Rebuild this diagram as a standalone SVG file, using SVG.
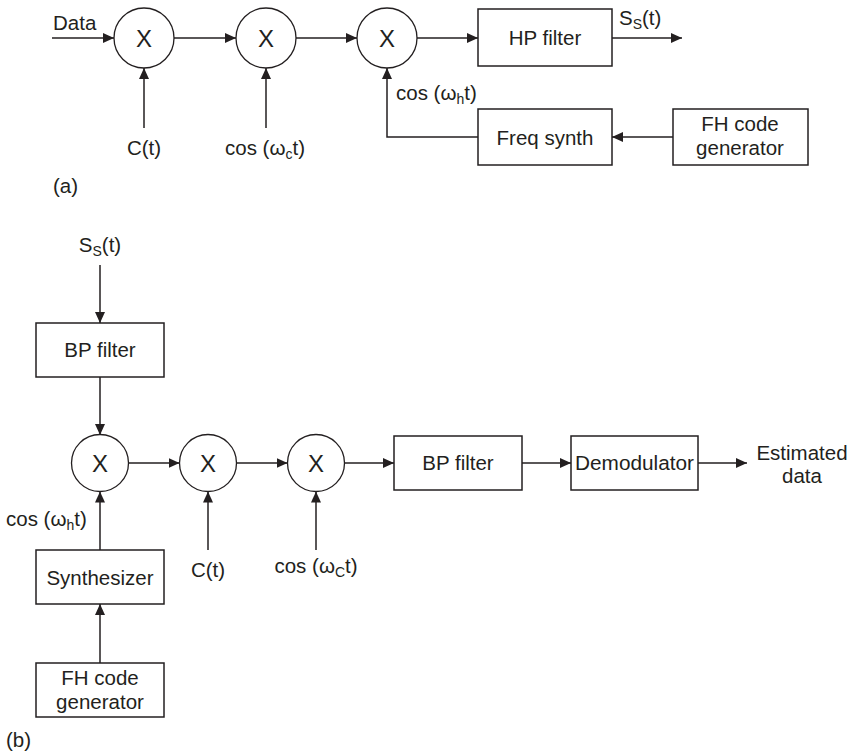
<svg xmlns="http://www.w3.org/2000/svg" width="857" height="755" viewBox="0 0 857 755">
<defs>
<marker id="arr" markerUnits="userSpaceOnUse" markerWidth="12" markerHeight="11" refX="11" refY="5" orient="auto">
<path d="M0,0 L11,5 L0,10 Z" fill="#231f20"/>
</marker>
<style>
.box{fill:#fff;stroke:#231f20;stroke-width:1.5}
.mul{fill:#fff;stroke:#231f20;stroke-width:1.3}
.ln{fill:none;stroke:#231f20;stroke-width:1.5;marker-end:url(#arr)}
text{font-family:"Liberation Sans",Arial,sans-serif;font-size:20.5px;fill:#231f20}
.c{text-anchor:middle}
.x{font-size:24px;text-anchor:middle}
.sub{font-size:14px}
</style>
</defs>
<rect width="857" height="755" fill="#fff"/>
<g id="connectors">
<path class="ln" d="M52,38 H114"/>
<path class="ln" d="M174,38 H236"/>
<path class="ln" d="M296,38 H357"/>
<path class="ln" d="M417,38 H478"/>
<path class="ln" d="M612,38 H682"/>
<path class="ln" d="M144,128 V68"/>
<path class="ln" d="M266,128 V68"/>
<path class="ln" d="M478,137 H387 V68"/>
<path class="ln" d="M673,137 H612"/>
<path class="ln" d="M100,265 V323"/>
<path class="ln" d="M100,377 V435"/>
<path class="ln" d="M128.5,463 H179.5"/>
<path class="ln" d="M236.5,463 H287.5"/>
<path class="ln" d="M344.5,463 H394"/>
<path class="ln" d="M522,463 H571"/>
<path class="ln" d="M698,463 H747"/>
<path class="ln" d="M100,550 V491.5"/>
<path class="ln" d="M100,663 V604"/>
<path class="ln" d="M208,550 V491.5"/>
<path class="ln" d="M316,550 V491.5"/>
</g>
<g id="labels">
<text x="53" y="30">Data</text>
<text class="c" x="144" y="155">C(t)</text>
<text class="c" x="265" y="155">cos (ω<tspan class="sub" dy="4">c</tspan><tspan dy="-4">t)</tspan></text>
<text x="396" y="100">cos (ω<tspan class="sub" dy="4">h</tspan><tspan dy="-4">t)</tspan></text>
<text x="619" y="25">S<tspan class="sub" dy="4">S</tspan><tspan dy="-4">(t)</tspan></text>
<text x="53" y="193">(a)</text>
<text class="c" x="100" y="252">S<tspan class="sub" dy="4">S</tspan><tspan dy="-4">(t)</tspan></text>
<text x="6" y="526">cos (ω<tspan class="sub" dy="4">h</tspan><tspan dy="-4">t)</tspan></text>
<text class="c" x="208" y="577">C(t)</text>
<text class="c" x="316" y="573">cos (ω<tspan class="sub" dy="4">C</tspan><tspan dy="-4">t)</tspan></text>
<text class="c" x="802" y="460">Estimated</text>
<text class="c" x="802" y="483">data</text>
<text x="6" y="747">(b)</text>
</g>
<g id="mulA1"><circle class="mul" cx="144" cy="38" r="30"/><text class="x" x="144" y="47">X</text></g>
<g id="mulA2"><circle class="mul" cx="266" cy="38" r="30"/><text class="x" x="266" y="47">X</text></g>
<g id="mulA3"><circle class="mul" cx="387" cy="38" r="30"/><text class="x" x="387" y="47">X</text></g>
<g id="hpfilter"><rect class="box" x="478" y="9" width="134" height="57"/><text class="c" x="545" y="45">HP filter</text></g>
<g id="freqsynth"><rect class="box" x="478" y="109" width="134" height="56"/><text class="c" x="545" y="145">Freq synth</text></g>
<g id="fhgenA"><rect class="box" x="673" y="109" width="135" height="56"/><text class="c" x="740" y="131">FH code</text><text class="c" x="740" y="155">generator</text></g>
<g id="bpfilter1"><rect class="box" x="36" y="323" width="128" height="54"/><text class="c" x="100" y="357">BP filter</text></g>
<g id="mulB1"><circle class="mul" cx="100" cy="463" r="28.5"/><text class="x" x="100" y="472">X</text></g>
<g id="mulB2"><circle class="mul" cx="208" cy="463" r="28.5"/><text class="x" x="208" y="472">X</text></g>
<g id="mulB3"><circle class="mul" cx="316" cy="463" r="28.5"/><text class="x" x="316" y="472">X</text></g>
<g id="bpfilter2"><rect class="box" x="394" y="436" width="128" height="54"/><text class="c" x="458" y="470">BP filter</text></g>
<g id="demod"><rect class="box" x="571" y="436" width="127" height="54"/><text class="c" x="634.5" y="470" textLength="119" lengthAdjust="spacingAndGlyphs">Demodulator</text></g>
<g id="synth"><rect class="box" x="36" y="550" width="128" height="54"/><text class="c" x="100" y="585">Synthesizer</text></g>
<g id="fhgenB"><rect class="box" x="36" y="663" width="128" height="54"/><text class="c" x="100" y="685">FH code</text><text class="c" x="100" y="709">generator</text></g>
</svg>
